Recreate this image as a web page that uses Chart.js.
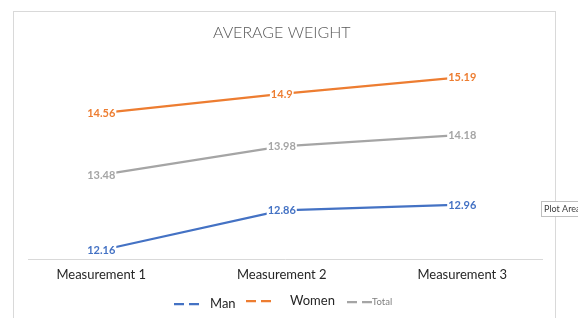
<!DOCTYPE html>
<html>
<head>
<meta charset="utf-8">
<script src="https://cdn.jsdelivr.net/npm/chart.js@4"></script>
<style>
html,body{margin:0;padding:0;background:#fff;}
#wrap{width:578px;height:318px;position:relative;}
</style>
</head>
<body>
<div id="wrap"><canvas id="c" width="578" height="318"></canvas></div>
<script>
const categories = ["Measurement 1", "Measurement 2", "Measurement 3"];
const manValues = [12.16, 12.86, 12.96];
const womenValues = [14.56, 14.9, 15.19];
const totalValues = [13.48, 13.98, 14.18];
const seriesNames = ["Man", "Women", "Total"];
const titleText = "AVERAGE WEIGHT";

const colors = ["#4472C4", "#ED7D31", "#A5A5A5"];
const FONT = "Lato, 'Open Sans', sans-serif";

const frame = {
  id: 'frame',
  beforeDraw(chart) {
    const ctx = chart.ctx;
    ctx.save();
    ctx.fillStyle = '#fff';
    ctx.fillRect(0, 0, chart.width, chart.height);
    ctx.strokeStyle = '#d9d9d9';
    ctx.lineWidth = 1;
    ctx.strokeRect(13.5, 11.5, 542, 330);
    ctx.restore();
  },
  beforeDatasetsDraw(chart) {
    const ctx = chart.ctx;
    const y = Math.round(chart.chartArea.bottom) + 0.5;
    ctx.save();
    ctx.strokeStyle = '#d9d9d9';
    ctx.lineWidth = 1;
    ctx.beginPath();
    ctx.moveTo(28, y); ctx.lineTo(543, y);
    ctx.stroke();
    ctx.restore();
  }
};

const labels = {
  id: 'valueLabels',
  afterDatasetsDraw(chart) {
    const ctx = chart.ctx;
    ctx.save();
    ctx.font = "bold 11px " + FONT;
    ctx.textAlign = 'center';
    ctx.textBaseline = 'middle';
    chart.data.datasets.forEach((ds, i) => {
      const meta = chart.getDatasetMeta(i);
      meta.data.forEach((pt, j) => {
        const txt = String(ds.data[j]);
        const w = ctx.measureText(txt).width;
        ctx.fillStyle = '#fff';
        ctx.fillRect(pt.x - w / 2 - 1, pt.y - 6, w + 2, 12);
        ctx.fillStyle = ds.borderColor;
        ctx.fillText(txt, pt.x, pt.y + 0.5);
      });
    });
    ctx.restore();
  }
};

const legendDraw = {
  id: 'legendDraw',
  afterDraw(chart) {
    const ctx = chart.ctx;
    ctx.save();
    ctx.textBaseline = 'middle';
    ctx.textAlign = 'left';
    const items = [
      {x: 174, tx: 210, size: 13, color: '#262626', y: 304},
      {x: 246, tx: 290, size: 13, color: '#262626', y: 301},
      {x: 347, tx: 372, size: 9.5, color: '#7f7f7f', y: 302}
    ];
    items.forEach((it, i) => {
      ctx.strokeStyle = colors[i];
      ctx.lineWidth = 2.25;
      ctx.beginPath();
      ctx.moveTo(it.x, it.y); ctx.lineTo(it.x + 10, it.y);
      ctx.moveTo(it.x + 15, it.y); ctx.lineTo(it.x + 25, it.y);
      ctx.stroke();
      ctx.fillStyle = it.color;
      ctx.font = it.size + "px " + FONT;
      ctx.fillText(seriesNames[i], it.tx, it.y);
    });
    // Excel "Plot Area" hover tip
    ctx.fillStyle = '#ffffff';
    ctx.strokeStyle = '#bfbfbf';
    ctx.lineWidth = 1;
    ctx.fillRect(541.5, 201.5, 40, 15);
    ctx.strokeRect(541.5, 201.5, 40, 15);
    ctx.fillStyle = '#404040';
    ctx.font = "9px " + FONT;
    ctx.fillText("Plot Area", 544, 209.5);
    ctx.restore();
  }
};

const seriesData = [manValues, womenValues, totalValues];
new Chart(document.getElementById('c'), {
  type: 'line',
  data: {
    labels: categories,
    datasets: seriesNames.map((n, i) => ({
      label: n,
      data: seriesData[i],
      borderColor: colors[i],
      backgroundColor: colors[i],
      borderWidth: 2.25,
      pointRadius: 0,
      tension: 0,
      fill: false
    }))
  },
  options: {
    responsive: false,
    animation: false,
    devicePixelRatio: 1,
    layout: { padding: { left: 11, right: 25.5, top: 0, bottom: 27 } },
    plugins: {
      legend: { display: false },
      tooltip: { enabled: false },
      title: {
        display: true,
        text: titleText,
        color: '#595959',
        font: { family: FONT, size: 16, weight: 300 },
        padding: { top: 23.4, bottom: 16.9 }
      }
    },
    scales: {
      x: {
        offset: true,
        grid: { display: false, drawTicks: false },
        border: { display: false },
        ticks: { color: '#262626', font: { family: FONT, size: 13 }, padding: 8, maxRotation: 0 }
      },
      y: {
        display: false,
        min: 12,
        max: 15.5
      }
    }
  },
  plugins: [frame, labels, legendDraw]
});
</script>
</body>
</html>
